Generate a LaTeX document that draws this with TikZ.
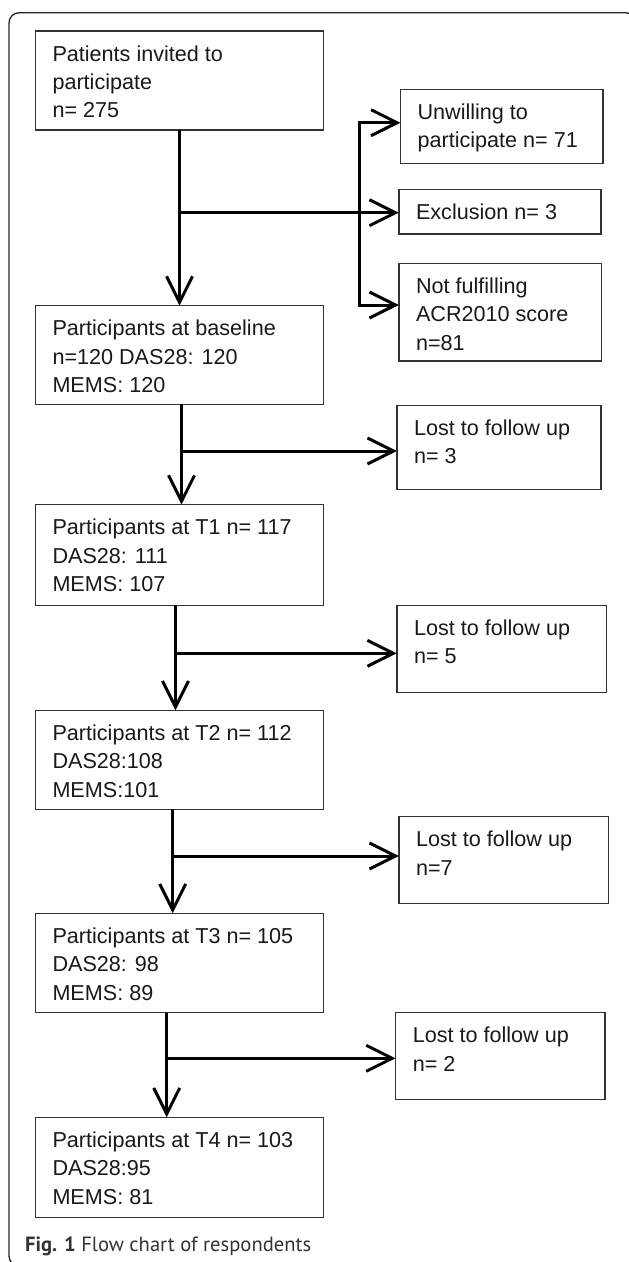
\documentclass[tikz,border=0pt]{standalone}
\usepackage{fontspec}
\setmainfont{Liberation Sans}
\newfontfamily\capfont{PT Sans}
\usetikzlibrary{arrows.meta,calc}
\newcommand\flowbox[6]{%
  \node[box, minimum width={#4pt-#2pt}, minimum height={#5pt-#3pt}] (#1) at (#2,#3) {};
  \node[txt] (#1t) at ($(#1.north west)+(17,10)$) {\strut #6};}
\begin{document}
\begin{tikzpicture}[x=1pt,y=-1pt,
  box/.style={draw=black!80, line width=1.4pt, anchor=north west, inner sep=0pt, outer sep=0pt},
  txt/.style={anchor=north west, inner sep=0pt, align=left, text=black!90, font=\fontsize{21.6}{28.4}\selectfont},
  arr/.style={line width=3pt, -{Straight Barb[length=26pt,width=26pt]}},
  darr/.style={line width=3pt, {Straight Barb[length=26pt,width=26pt]}-{Straight Barb[length=26pt,width=26pt]}},
  frame/.style={line width=1.3pt, draw=black!85, rounded corners=10pt},
]
\useasboundingbox (0,0) rectangle (629,1262);
\begin{scope}
  \clip (0,0) rectangle (629,1262);
  \draw[frame] (9,12.8) rectangle (636,1266);
\end{scope}

\flowbox{b1}{35.3}{31}{323.7}{130}{Patients invited to\\participate\\n= 275}
\flowbox{unw}{400.4}{89.3}{603}{163.7}{Unwilling to\\participate n= 71}
\flowbox{exc}{398.8}{189.3}{600.8}{234}{Exclusion n= 3}
\flowbox{nf}{398.8}{263.3}{601.6}{361}{Not fulfilling\\ACR2010 score\\n=81}
\flowbox{b2}{35.3}{305.7}{323.7}{404.3}{Participants at baseline\\n=120 DAS28: 120\\MEMS: 120}
\flowbox{l1}{396.8}{405.3}{600.8}{489.3}{Lost to follow up\\n= 3}
\flowbox{b3}{35.3}{504.7}{323.7}{605.3}{Participants at T1 n= 117\\DAS28: 111\\MEMS: 107}
\flowbox{l2}{396.8}{605.3}{606.4}{692.3}{Lost to follow up\\n= 5}
\flowbox{b4}{35.3}{710.3}{323.7}{809.3}{Participants at T2 n= 112\\DAS28:108\\MEMS:101}
\flowbox{l3}{398.8}{816.7}{608.4}{903.3}{Lost to follow up\\n=7}
\flowbox{b5}{35.3}{913.3}{323.7}{1012.7}{Participants at T3 n= 105\\DAS28: 98\\MEMS: 89}
\flowbox{l4}{395.6}{1012.7}{604.8}{1099.3}{Lost to follow up\\n= 2}
\flowbox{b6}{35.3}{1117.3}{323.7}{1217.3}{Participants at T4 n= 103\\DAS28:95\\MEMS: 81}

% junctions
\coordinate (j1) at (179.5,212.7);
\coordinate (k1) at (359.4,122.7);
\coordinate (k2) at (359.4,305);
\coordinate (j2) at (181.5,451);
\coordinate (j3) at (175.5,653.3);
\coordinate (j4) at (172.7,856);
\coordinate (j5) at (166.7,1058.3);

\draw[arr] (b1.south -| j1) -- (b2.north -| j1);
\draw[arr] (j1) -- (exc.west |- j1);
\draw[darr] (unw.west |- k1) -- (k1) -- (k2) -- (nf.west |- k2);

\draw[arr] (b2.south -| j2) -- (b3.north -| j2);
\draw[arr] (j2) -- (l1.west |- j2);

\draw[arr] (b3.south -| j3) -- (b4.north -| j3);
\draw[arr] (j3) -- (l2.west |- j3);

\draw[arr] (b4.south -| j4) -- (b5.north -| j4);
\draw[arr] (j4) -- (l3.west |- j4);

\draw[arr] (b5.south -| j5) -- (b6.north -| j5);
\draw[arr] (j5) -- (l4.west |- j5);

\node[anchor=base west, inner sep=0pt, font=\capfont\fontsize{20.6}{24}\selectfont, text=black!80] (cap) at (24.9,1251.7) {\textbf{Fig. 1} Flow chart of respondents};
\end{tikzpicture}
\end{document}
